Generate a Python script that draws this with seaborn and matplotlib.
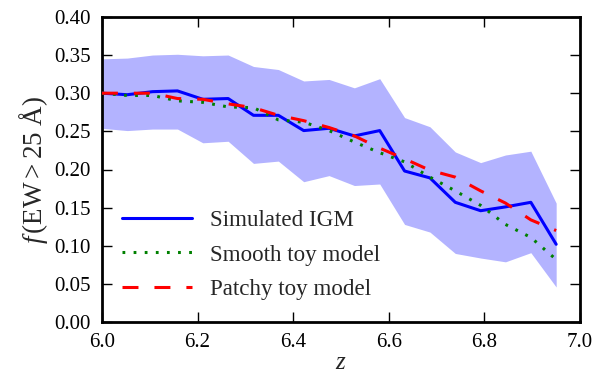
import matplotlib
matplotlib.use("Agg")
import matplotlib.pyplot as plt
from matplotlib.ticker import FormatStrFormatter, MultipleLocator
import numpy as np
import pandas as pd
import seaborn as sns

# Redshift bins
z = [6.000, 6.053, 6.106, 6.158, 6.211, 6.264, 6.317, 6.369, 6.422, 6.475,
     6.528, 6.581, 6.633, 6.686, 6.739, 6.792, 6.844, 6.897, 6.950]

# Fraction of lines with EW > 25 A in the simulated IGM (mean and 1-sigma range)
sim_mean = [0.300, 0.298, 0.302, 0.303, 0.292, 0.293, 0.271, 0.271, 0.251, 0.254,
            0.244, 0.251, 0.198, 0.189, 0.157, 0.146, 0.151, 0.157, 0.102]
sim_hi = [0.345, 0.346, 0.350, 0.351, 0.349, 0.350, 0.335, 0.331, 0.316, 0.318,
          0.307, 0.319, 0.268, 0.256, 0.223, 0.209, 0.219, 0.224, 0.156]
sim_lo = [0.254, 0.251, 0.253, 0.253, 0.235, 0.237, 0.208, 0.211, 0.184, 0.192,
          0.179, 0.181, 0.128, 0.118, 0.090, 0.084, 0.079, 0.091, 0.046]

# Toy models
smooth = [0.300, 0.297, 0.297, 0.290, 0.288, 0.282, 0.281, 0.265, 0.262, 0.251,
          0.236, 0.222, 0.210, 0.190, 0.172, 0.153, 0.128, 0.111, 0.082]
patchy = [0.300, 0.300, 0.300, 0.293, 0.292, 0.286, 0.281, 0.271, 0.264, 0.255,
          0.244, 0.228, 0.214, 0.199, 0.190, 0.172, 0.156, 0.134, 0.120]

labels = ["Simulated IGM", "Smooth toy model", "Patchy toy model"]

sns.set_style("ticks")
plt.rcParams.update({
    "font.family": "serif",
    "font.serif": ["Liberation Serif", "DejaVu Serif"],
    "mathtext.fontset": "custom",
    "mathtext.rm": "Liberation Serif",
    "mathtext.it": "Liberation Serif:italic",
    "mathtext.bf": "Liberation Serif:bold",
    "lines.scale_dashes": False,
    "xtick.direction": "in",
    "ytick.direction": "in",
    "xtick.top": True,
    "ytick.right": True,
})

df = pd.DataFrame({"z": z, "sim": sim_mean, "lo": sim_lo, "hi": sim_hi,
                   "smooth": smooth, "patchy": patchy})

fig, ax = plt.subplots(figsize=(6.03, 3.75), dpi=100)
fig.subplots_adjust(left=0.169, right=0.962, top=0.955, bottom=0.141)

ax.fill_between(df["z"], df["lo"], df["hi"], color=(0.70, 0.70, 1.0),
                linewidth=0, zorder=1)
sns.lineplot(data=df, x="z", y="sim", ax=ax, color=(0, 0, 1), linewidth=2.2,
             label=labels[0], zorder=3)
sns.lineplot(data=df, x="z", y="smooth", ax=ax, color=(0, 0.5, 0), linewidth=2.2,
             linestyle=(0, (2.0, 6.0)), label=labels[1], zorder=4)
sns.lineplot(data=df, x="z", y="patchy", ax=ax, color=(1, 0, 0), linewidth=2.2,
             linestyle=(0, (11.5, 11.5)), label=labels[2], zorder=5)

ax.set_xlim(6.0, 7.0)
ax.set_ylim(0.0, 0.40)
ax.xaxis.set_major_locator(MultipleLocator(0.2))
ax.yaxis.set_major_locator(MultipleLocator(0.05))
ax.xaxis.set_major_formatter(FormatStrFormatter("%.1f"))
ax.yaxis.set_major_formatter(FormatStrFormatter("%.2f"))

for side in ["left", "right", "top", "bottom"]:
    ax.spines[side].set_visible(True)
    ax.spines[side].set_linewidth(2.0)
    ax.spines[side].set_color("black")
ax.tick_params(which="major", direction="in", length=7, width=1.0,
               colors="black", labelsize=15, pad=8,
               top=True, right=True)

ax.set_xlabel(r"$z$", fontsize=18, labelpad=0)
ax.set_ylabel(r"$f\,(\mathrm{EW} > 25\ \mathrm{\AA})$", fontsize=19.5, labelpad=3)

leg = ax.legend(loc="lower left", frameon=False, fontsize=16.6,
                handlelength=3.04, handletextpad=0.78, labelspacing=0.57,
                borderaxespad=0.0, borderpad=0.0,
                bbox_to_anchor=(0.042, 0.073))

fig.savefig("out.png", dpi=100)
